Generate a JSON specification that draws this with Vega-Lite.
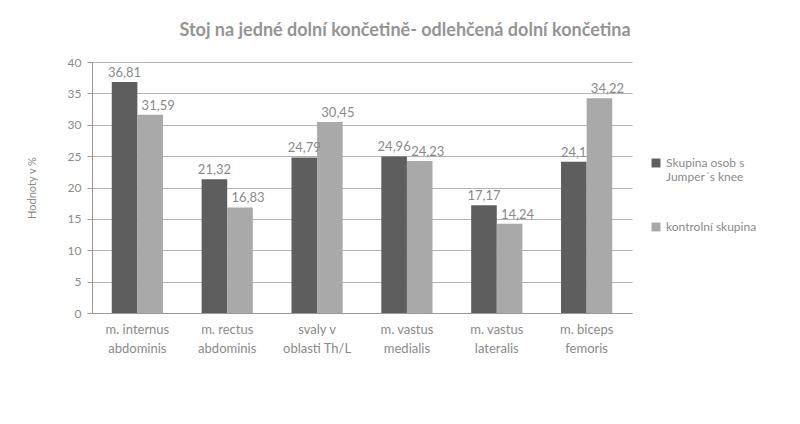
{
  "$schema": "https://vega.github.io/schema/vega-lite/v6.json",
  "autosize": "none",
  "width": 540,
  "height": 251,
  "padding": {"left": 92, "top": 62, "right": 168, "bottom": 111},
  "background": "white",
  "config": {
    "font": "Lato",
    "view": {"stroke": null},
    "locale": {
      "number": {"decimal": ",", "thousands": " ", "grouping": [3], "currency": ["", " Kč"]}
    }
  },
  "title": {
    "text": "Stoj na jedné dolní končetině- odlehčená dolní končetina",
    "fontSize": 18,
    "fontWeight": "bold",
    "color": "#949494",
    "anchor": "middle",
    "dx": 43,
    "offset": 16,
    "font": "Lato"
  },
  "data": {
    "values": [
      {"sval": "m. internus|abdominis", "skupina": "Skupina osob s Jumper´s knee", "hodnota": 36.81},
      {"sval": "m. internus|abdominis", "skupina": "kontrolní skupina", "hodnota": 31.59},
      {"sval": "m. rectus|abdominis", "skupina": "Skupina osob s Jumper´s knee", "hodnota": 21.32},
      {"sval": "m. rectus|abdominis", "skupina": "kontrolní skupina", "hodnota": 16.83},
      {"sval": "svaly v|oblasti Th/L", "skupina": "Skupina osob s Jumper´s knee", "hodnota": 24.79},
      {"sval": "svaly v|oblasti Th/L", "skupina": "kontrolní skupina", "hodnota": 30.45},
      {"sval": "m. vastus|medialis", "skupina": "Skupina osob s Jumper´s knee", "hodnota": 24.96},
      {"sval": "m. vastus|medialis", "skupina": "kontrolní skupina", "hodnota": 24.23},
      {"sval": "m. vastus|lateralis", "skupina": "Skupina osob s Jumper´s knee", "hodnota": 17.17},
      {"sval": "m. vastus|lateralis", "skupina": "kontrolní skupina", "hodnota": 14.24},
      {"sval": "m. biceps|femoris", "skupina": "Skupina osob s Jumper´s knee", "hodnota": 24.1},
      {"sval": "m. biceps|femoris", "skupina": "kontrolní skupina", "hodnota": 34.22}
    ]
  },
  "encoding": {
    "x": {
      "field": "sval",
      "type": "nominal",
      "sort": null,
      "scale": {"paddingInner": 0.43, "paddingOuter": 0.22},
      "axis": {
        "title": null,
        "labelAngle": 0,
        "labelExpr": "split(datum.label, '|')",
        "labelFontSize": 13,
        "labelColor": "#8a8a8a",
        "labelPadding": 10,
        "labelLineHeight": 19,
        "domainColor": "#999999",
        "ticks": false
      }
    },
    "xOffset": {"field": "skupina", "type": "nominal", "sort": null},
    "y": {
      "field": "hodnota",
      "type": "quantitative",
      "scale": {"domain": [0, 40]},
      "axis": {
        "title": "Hodnoty v %",
        "titleFontSize": 11,
        "titleFontWeight": "normal",
        "titleColor": "#8a8a8a",
        "titlePadding": 30,
        "values": [0, 5, 10, 15, 20, 25, 30, 35, 40],
        "labelFontSize": 12,
        "labelColor": "#8a8a8a",
        "labelPadding": 6,
        "gridColor": "#b4b4b4",
        "domainColor": "#999999",
        "tickColor": "#999999",
        "tickSize": 5
      }
    }
  },
  "layer": [
    {
      "mark": {"type": "bar"},
      "encoding": {
        "color": {
          "field": "skupina",
          "type": "nominal",
          "sort": null,
          "scale": {"range": ["#5e5e5e", "#a9a9a9"]},
          "legend": {
            "title": null,
            "orient": "none",
            "legendX": 558,
            "legendY": 95,
            "symbolType": "square",
            "symbolSize": 80,
            "labelFontSize": 12,
            "labelColor": "#8a8a8a",
            "labelLimit": 200,
            "rowPadding": 38,
            "labelExpr": "datum.label == 'Skupina osob s Jumper´s knee' ? ['Skupina osob s', 'Jumper´s knee'] : datum.label"
          }
        }
      }
    },
    {
      "transform": [{"filter": "datum.skupina == 'Skupina osob s Jumper´s knee'"}],
      "mark": {"type": "text", "dy": -9, "fontSize": 13, "color": "#8a8a8a"},
      "encoding": {
        "text": {"field": "hodnota", "type": "quantitative", "format": ".2~f"}
      }
    },
    {
      "transform": [{"filter": "datum.skupina == 'kontrolní skupina'"}],
      "mark": {"type": "text", "dy": -9, "dx": 8, "fontSize": 13, "color": "#8a8a8a"},
      "encoding": {
        "text": {"field": "hodnota", "type": "quantitative", "format": ".2~f"}
      }
    }
  ]
}
